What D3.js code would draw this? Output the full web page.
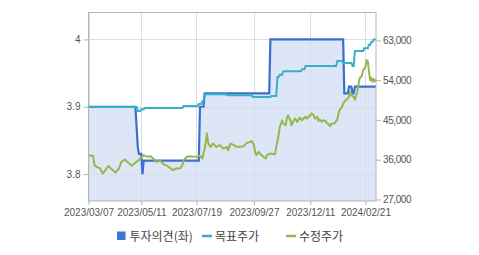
<!DOCTYPE html>
<html><head><meta charset="utf-8">
<script src="https://cdn.jsdelivr.net/npm/d3@7"></script>
<style>body{margin:0;background:#fff}svg{display:block}</style>
</head><body><svg id="c" width="479" height="255"></svg>
<script>
// ---- data ----
const firstDay = "2023/03/07";
const lastDay = "2024/03/06";
const marketHolidays = ["2023/05/01","2023/05/05","2023/05/29","2023/06/06","2023/08/15","2023/09/28","2023/09/29","2023/10/02","2023/10/03","2023/10/09","2023/12/25","2023/12/29","2024/01/01","2024/02/09","2024/02/12","2024/03/01"];
const xTickLabels = ["2023/03/07","2023/05/11","2023/07/19","2023/09/27","2023/12/11","2024/02/21"];
const leftTicks = [3.8, 3.9, 4];
const rightTicks = [27000, 36000, 45000, 54000, 63000];
const legendLabels = ["투자의견(좌)", "목표주가", "수정주가"];

// 투자의견 (left axis), value holds until next date
const opinionDates  = ["2023/03/07","2023/05/04","2023/05/08","2023/05/09","2023/05/12","2023/05/15","2023/07/24","2023/07/28","2023/10/24","2024/01/24","2024/01/30","2024/02/02","2024/02/06"];
const opinionValues = [3.9, 3.87, 3.84, 3.83, 3.80, 3.82, 3.9, 3.92, 4.0, 3.92, 3.93, 3.92, 3.93];

// 목표주가 (right axis), value holds until next date
const targetDates  = ["2023/03/07","2023/05/08","2023/05/11","2023/05/16","2023/07/04","2023/07/21","2023/07/26","2023/07/28","2023/08/25","2023/09/26","2023/10/25","2023/11/01","2023/11/03","2023/11/08","2023/11/30","2023/12/05","2024/01/16","2024/01/23","2024/02/02","2024/02/06","2024/02/20","2024/02/26","2024/02/28","2024/03/04"];
const targetValues = [47900, 47000, 47400, 47700, 48150, 48600, 49200, 50800, 50600, 50200, 50400, 54700, 55200, 56000, 56450, 57200, 58300, 57900, 57200, 60600, 61200, 62000, 62600, 63200];

// 수정주가 (right axis)
const priceDates = ["2023/03/07","2023/03/13","2023/03/14","2023/03/16","2023/03/21","2023/03/23","2023/03/27","2023/03/30","2023/04/04","2023/04/07","2023/04/12","2023/04/14","2023/04/19","2023/04/24","2023/04/27","2023/05/03","2023/05/09","2023/05/11","2023/05/15","2023/05/18","2023/05/23","2023/05/25","2023/05/31","2023/06/05","2023/06/09","2023/06/14","2023/06/19","2023/06/21","2023/06/26","2023/06/29","2023/07/03","2023/07/04","2023/07/07","2023/07/12","2023/07/14","2023/07/19","2023/07/24","2023/07/26","2023/07/27","2023/07/28","2023/08/01","2023/08/02","2023/08/04","2023/08/08","2023/08/11","2023/08/17","2023/08/22","2023/08/25","2023/08/28","2023/08/30","2023/09/04","2023/09/06","2023/09/11","2023/09/14","2023/09/19","2023/09/22","2023/09/25","2023/09/27","2023/10/04","2023/10/05","2023/10/10","2023/10/11","2023/10/16","2023/10/18","2023/10/19","2023/10/24","2023/10/27","2023/10/30","2023/10/31","2023/11/02","2023/11/03","2023/11/07","2023/11/08","2023/11/10","2023/11/13","2023/11/14","2023/11/16","2023/11/17","2023/11/21","2023/11/22","2023/11/24","2023/11/27","2023/11/28","2023/11/30","2023/12/01","2023/12/05","2023/12/06","2023/12/07","2023/12/11","2023/12/12","2023/12/14","2023/12/15","2023/12/19","2023/12/20","2023/12/21","2023/12/26","2023/12/27","2024/01/02","2024/01/03","2024/01/04","2024/01/08","2024/01/09","2024/01/11","2024/01/12","2024/01/16","2024/01/17","2024/01/18","2024/01/22","2024/01/23","2024/01/25","2024/01/26","2024/01/30","2024/01/31","2024/02/01","2024/02/05","2024/02/06","2024/02/08","2024/02/13","2024/02/14","2024/02/16","2024/02/19","2024/02/21","2024/02/22","2024/02/23","2024/02/26","2024/02/27","2024/02/28","2024/02/29","2024/03/04","2024/03/05","2024/03/06"];
const priceValues = [36940, 36870, 34760, 34380, 34000, 32870, 33480, 34610, 33780, 33100, 34000, 35510, 36040, 35280, 34610, 35360, 35890, 36490, 37020, 36640, 36790, 36260, 35510, 35740, 34980, 34610, 34000, 33630, 34000, 34000, 34760, 35890, 36640, 36790, 36640, 36640, 36870, 36260, 37390, 38520, 41910, 39650, 38900, 39650, 38900, 39280, 38520, 38900, 38150, 39650, 39280, 38900, 38900, 39050, 39800, 40030, 40250, 39280, 37770, 37020, 37770, 37390, 36640, 36260, 37020, 37390, 37240, 37240, 38900, 41530, 43420, 44920, 44170, 43790, 45300, 46050, 44920, 43790, 44920, 45300, 44550, 45070, 45530, 44920, 45300, 45680, 45300, 45530, 46050, 46430, 46050, 45300, 45680, 44770, 45070, 44550, 44920, 44770, 44320, 44170, 43570, 44170, 44170, 44320, 45070, 46430, 47180, 47940, 48690, 49440, 49590, 50200, 51330, 50570, 50200, 49590, 51330, 52830, 54340, 55090, 56220, 57000, 58500, 58300, 56000, 54000, 54500, 53600, 54300, 53700, 54100];

// ---- build trading-day axis ----
const fmt = d3.timeFormat("%Y/%m/%d");
const parse = d3.timeParse("%Y/%m/%d");
const hol = new Set(marketHolidays);
const days = [];
for (let d = parse(firstDay); d <= parse(lastDay); d = d3.timeDay.offset(d, 1)) {
  const wd = d.getDay();
  const s = fmt(d);
  if (wd !== 0 && wd !== 6 && !hol.has(s)) days.push(s);
}
function holdSeries(ds, vs) {
  let j = 0, cur = vs[0];
  return days.map(day => {
    while (j < ds.length && ds[j] <= day) { cur = vs[j]; j++; }
    return {day, v: cur};
  });
}
const opinion = holdSeries(opinionDates, opinionValues);
const target = holdSeries(targetDates, targetValues);
const price = priceDates.map((d, i) => ({day: d, v: priceValues[i]}));

// ---- scales ----
const L = 88.5, R = 376, T = 12.5, B = 201;
const x = d3.scalePoint().domain(days).range([L, R]);
const yL = d3.scaleLinear().domain([3.76, 4.04]).range([B, T]);
const yR = d3.scaleLinear().domain([26650, 69300]).range([B, T]);

const svg = d3.select("#c");
const font = "'Liberation Sans', Arial, sans-serif";

// fill under opinion
svg.append("path").datum(opinion)
  .attr("d", d3.area().x(d => x(d.day)).y0(B).y1(d => yL(d.v)))
  .attr("fill", "#dce6f6");

// gridlines
const gridColor = "#d9dee6";
svg.append("g").selectAll("line").data(leftTicks).join("line")
  .attr("x1", L).attr("x2", R).attr("y1", d => Math.round(yL(d)) + 0.5).attr("y2", d => Math.round(yL(d)) + 0.5)
  .attr("stroke", gridColor);
svg.append("g").selectAll("line").data(xTickLabels).join("line")
  .attr("x1", d => Math.round(x(d)) + 0.5).attr("x2", d => Math.round(x(d)) + 0.5)
  .attr("y1", T).attr("y2", B)
  .attr("stroke", gridColor);

// lines
svg.append("path").datum(opinion)
  .attr("d", d3.line().x(d => x(d.day)).y(d => yL(d.v)))
  .attr("fill", "none").attr("stroke", "#3a6fcc").attr("stroke-width", 2.2);
svg.append("path").datum(target)
  .attr("d", d3.line().x(d => x(d.day)).y(d => yR(d.v)))
  .attr("fill", "none").attr("stroke", "#36b0c8").attr("stroke-width", 2);
svg.append("path").datum(price)
  .attr("d", d3.line().x(d => x(d.day)).y(d => yR(d.v)))
  .attr("fill", "none").attr("stroke", "#94b84c").attr("stroke-width", 2).attr("stroke-linejoin", "round");

// frame
svg.append("rect").attr("x", L).attr("y", T).attr("width", R - L).attr("height", B - T)
  .attr("fill", "none").attr("stroke", "#b4b4b4");

// axes
const axisColor = "#b4b4b4", labelColor = "#555";
const gl = svg.append("g").attr("transform", `translate(${L},0)`)
  .call(d3.axisLeft(yL).tickValues(leftTicks).tickSize(5).tickFormat(d3.format("")));
const gr = svg.append("g").attr("transform", `translate(${R},0)`)
  .call(d3.axisRight(yR).tickValues(rightTicks).tickSize(5).tickPadding(2).tickFormat(d3.format(",")));
const gb = svg.append("g").attr("transform", `translate(0,${B})`)
  .call(d3.axisBottom(x).tickValues(xTickLabels).tickSize(4).tickPadding(4));
[gl, gr, gb].forEach(g => {
  g.select(".domain").remove();
  g.selectAll("line").attr("stroke", axisColor);
  g.selectAll("text").attr("fill", labelColor).style("font-family", font).style("font-size", "10px");
});
gr.selectAll("text").style("letter-spacing", "-0.4px");

// legend
const lg = svg.append("g").style("font-family", "'Noto Sans CJK KR', sans-serif").style("font-size", "12px");
lg.append("rect").attr("x", 117).attr("y", 231.5).attr("width", 8.5).attr("height", 8.5).attr("fill", "#3a78d6");
lg.append("text").attr("x", 129.5).attr("y", 240.5).attr("fill", "#444").text(legendLabels[0]);
lg.append("line").attr("x1", 202).attr("x2", 212).attr("y1", 236).attr("y2", 236).attr("stroke", "#36b0c8").attr("stroke-width", 2.5);
lg.append("text").attr("x", 215).attr("y", 240.5).attr("fill", "#444").text(legendLabels[1]);
lg.append("line").attr("x1", 286).attr("x2", 296).attr("y1", 236).attr("y2", 236).attr("stroke", "#94b84c").attr("stroke-width", 2.5);
lg.append("text").attr("x", 299).attr("y", 240.5).attr("fill", "#444").text(legendLabels[2]);
</script>
</body></html>
